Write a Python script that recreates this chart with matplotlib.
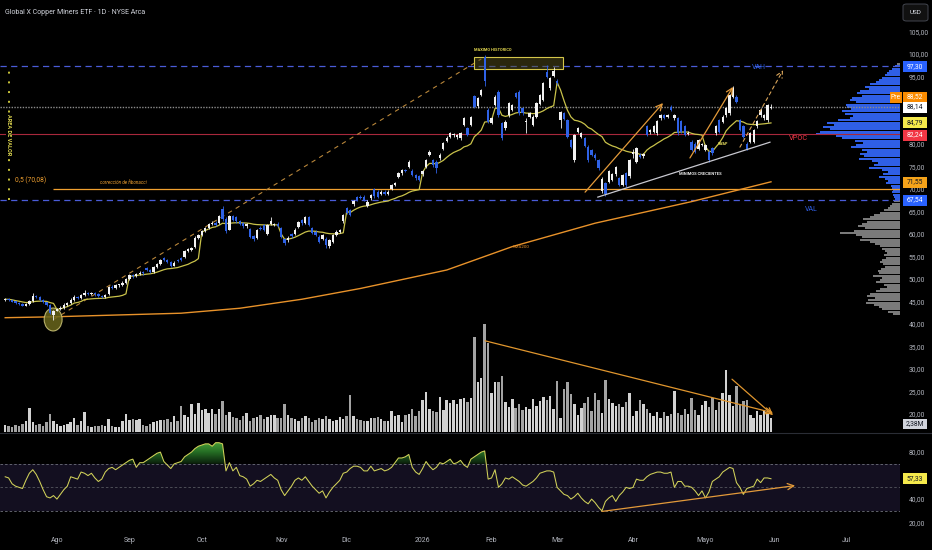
import numpy as np
import matplotlib
matplotlib.use("Agg")
import matplotlib.pyplot as plt
from matplotlib.patches import Rectangle, Ellipse, FancyBboxPatch
from matplotlib.lines import Line2D
from matplotlib.transforms import blended_transform_factory
from matplotlib.colors import LinearSegmentedColormap
from matplotlib.path import Path
from matplotlib.ticker import FuncFormatter

plt.rcParams['font.family'] = ['Roboto', 'DejaVu Sans']

# ---------------- data ----------------
title = "Global X Copper Miners ETF · 1D · NYSE Arca"
month_labels = ['Ago', 'Sep', 'Oct', 'Nov', 'Dic', '2026', 'Feb', 'Mar', 'Abr', 'Mayo', 'Jun', 'Jul']
month_pos = [15, 36, 57, 80, 99, 121, 141, 160, 182, 203, 223, 244]
month_starts = [0, 15, 36, 57, 80, 99, 121, 141, 160, 182, 203]

opens = [
    45.3, 45.6, 45.4, 45.0, 44.6, 44.5, 44.1, 44.4, 45.1, 46.3,
    46.0, 45.3, 44.8, 44.3, 41.9, 43.0, 43.3, 43.6, 44.2, 44.7,
    45.4, 46.1, 45.8, 46.4, 47.0, 46.7, 46.9, 46.6, 46.2, 46.0,
    46.6, 48.3, 48.0, 48.6, 48.7, 49.2, 49.9, 50.9, 50.6, 51.1,
    51.4, 52.4, 52.0, 51.6, 52.7, 53.3, 54.6, 54.3, 53.8, 53.0,
    54.2, 54.6, 54.8, 56.2, 56.5, 57.2, 59.2, 59.8, 60.7, 61.3,
    62.2, 62.5, 62.5, 65.6, 63.4, 61.0, 64.0, 63.7, 62.9, 62.4,
    61.7, 61.0, 59.5, 59.2, 61.4, 62.0, 60.0, 62.2, 62.0, 62.3,
    61.3, 58.8, 58.6, 60.0, 60.0, 61.5, 63.1, 62.4, 63.7, 61.3,
    60.5, 59.4, 59.0, 59.0, 57.3, 58.3, 59.8, 60.5, 62.8, 65.7,
    65.3, 66.6, 68.2, 68.3, 68.3, 66.3, 67.9, 70.0, 69.4, 68.9,
    69.4, 69.0, 70.1, 70.9, 72.7, 73.5, 74.2, 75.0, 74.1, 73.1,
    72.8, 73.3, 75.0, 77.6, 76.4, 76.1, 76.8, 79.0, 80.7, 81.6,
    82.0, 81.5, 81.3, 84.2, 83.5, 84.2, 90.7, 88.4, 90.9, 99.4,
    87.6, 84.7, 88.7, 91.6, 84.6, 83.5, 86.4, 87.6, 91.3, 91.6,
    87.9, 85.0, 86.1, 84.2, 86.1, 89.0, 89.8, 96.1, 92.4, 95.1,
    94.1, 85.3, 86.8, 85.3, 80.9, 76.4, 82.7, 81.6, 81.3, 79.4,
    78.7, 77.6, 76.4, 69.6, 71.3, 71.6, 72.0, 73.3, 72.4, 70.9,
    73.5, 72.8, 77.8, 76.1, 77.6, 77.3, 83.9, 82.6, 82.7, 82.4,
    85.7, 86.4, 86.0, 88.3, 85.7, 85.7, 85.0, 83.9, 82.2, 80.5,
    80.1, 79.0, 79.8, 78.7, 78.3, 79.0, 82.4, 85.3, 85.0, 86.4,
    86.8, 90.5, 90.5, 85.3, 83.9, 80.1, 80.5, 80.5, 83.9, 86.4,
    85.7, 85.3, 88.0]

highs = [
    45.8, 45.8, 45.6, 45.2, 44.8, 44.7, 44.6, 45.3, 46.8, 46.5,
    46.2, 45.5, 45.0, 44.5, 43.2, 43.6, 43.9, 44.6, 45.0, 45.7,
    46.4, 46.3, 46.7, 47.6, 47.2, 47.1, 47.1, 46.8, 46.4, 46.7,
    48.5, 48.6, 48.9, 49.0, 49.5, 50.2, 51.2, 51.2, 51.4, 51.7,
    51.8, 52.7, 52.3, 52.9, 53.6, 54.5, 54.9, 54.5, 54.0, 53.9,
    54.5, 54.8, 56.5, 56.9, 57.2, 59.5, 60.1, 61.0, 61.6, 62.5,
    62.8, 62.8, 64.3, 66.3, 63.7, 64.3, 64.3, 64.0, 63.2, 62.7,
    62.5, 61.3, 59.8, 61.2, 61.7, 62.3, 62.3, 63.8, 62.5, 62.6,
    61.6, 59.1, 59.5, 60.3, 61.3, 63.0, 63.4, 64.0, 64.0, 61.6,
    60.8, 59.7, 60.1, 59.3, 59.0, 60.1, 60.8, 61.2, 64.5, 66.0,
    65.6, 67.6, 68.5, 68.6, 68.6, 67.5, 69.0, 70.3, 69.7, 69.7,
    69.7, 69.7, 71.2, 71.6, 73.8, 74.5, 74.5, 76.4, 74.4, 73.4,
    73.1, 74.2, 76.7, 78.6, 76.7, 76.4, 77.9, 80.5, 81.7, 82.7,
    82.5, 82.3, 82.7, 86.0, 83.8, 86.3, 91.0, 90.5, 92.3, 99.8,
    87.9, 86.0, 90.8, 92.0, 84.9, 85.3, 89.3, 89.0, 91.6, 91.9,
    88.2, 85.8, 87.1, 86.4, 89.3, 91.2, 93.8, 97.6, 94.9, 97.2,
    94.4, 87.3, 87.1, 85.6, 81.2, 82.3, 83.8, 82.7, 81.6, 79.7,
    79.0, 77.9, 76.7, 72.6, 71.6, 74.2, 73.6, 75.1, 72.7, 73.4,
    73.8, 76.7, 78.9, 79.3, 77.9, 78.1, 84.2, 83.4, 84.2, 85.3,
    86.7, 86.7, 86.7, 88.6, 86.7, 86.0, 85.3, 84.2, 82.8, 80.8,
    80.4, 81.2, 80.2, 80.1, 78.6, 79.3, 84.2, 85.6, 86.4, 88.2,
    91.2, 92.8, 90.8, 85.6, 84.2, 80.4, 82.7, 83.4, 85.3, 87.9,
    86.7, 89.0, 89.0]

lows = [
    45.1, 45.2, 44.8, 44.4, 44.3, 43.9, 43.9, 44.2, 45.0, 45.8,
    45.1, 44.6, 44.1, 42.2, 41.0, 42.8, 43.1, 43.4, 44.0, 44.5,
    45.2, 45.5, 45.6, 46.2, 46.4, 46.5, 46.3, 45.9, 45.7, 45.8,
    46.4, 47.7, 47.8, 48.3, 48.5, 49.0, 49.7, 50.3, 50.4, 50.9,
    51.0, 51.7, 51.3, 51.4, 52.5, 53.1, 54.0, 53.5, 52.7, 52.8,
    53.7, 54.0, 54.6, 56.0, 56.2, 57.0, 59.0, 59.6, 60.4, 61.1,
    61.9, 61.8, 62.3, 63.0, 60.3, 60.8, 62.9, 62.5, 62.0, 61.4,
    61.4, 59.1, 58.5, 59.0, 60.8, 60.7, 59.8, 62.0, 61.7, 61.5,
    59.1, 57.5, 58.3, 59.2, 59.8, 61.3, 62.1, 62.2, 61.7, 59.9,
    59.5, 58.0, 58.7, 56.8, 57.0, 58.0, 59.5, 60.2, 62.5, 64.4,
    64.0, 66.3, 67.3, 67.7, 67.3, 66.0, 67.6, 68.1, 68.0, 68.6,
    68.6, 68.7, 69.8, 70.6, 72.4, 73.2, 73.7, 74.7, 72.8, 72.1,
    71.8, 73.0, 74.7, 77.3, 75.0, 73.6, 76.5, 78.7, 80.4, 81.3,
    81.6, 81.2, 81.0, 83.9, 81.7, 83.9, 87.9, 88.1, 90.6, 93.0,
    84.7, 84.4, 88.4, 86.1, 81.0, 83.2, 86.1, 87.3, 90.2, 86.5,
    86.5, 82.5, 85.8, 83.9, 85.8, 88.7, 89.5, 94.7, 92.1, 94.8,
    93.2, 83.5, 85.3, 81.3, 79.1, 76.0, 82.4, 81.3, 79.3, 76.1,
    77.3, 76.5, 74.3, 69.2, 68.5, 71.3, 71.7, 73.0, 70.6, 70.6,
    70.5, 72.5, 77.0, 75.8, 76.8, 77.0, 81.7, 82.3, 82.4, 82.1,
    85.4, 85.5, 85.7, 87.3, 85.4, 82.1, 82.4, 81.7, 81.9, 78.4,
    78.0, 78.7, 79.5, 78.4, 76.1, 77.6, 82.1, 82.4, 84.7, 86.1,
    86.5, 90.2, 89.1, 82.8, 81.3, 78.6, 80.2, 80.2, 83.6, 86.1,
    85.4, 85.0, 87.8]

closes = [
    45.6, 45.4, 45.0, 44.6, 44.5, 44.1, 44.4, 45.1, 46.3, 46.0,
    45.3, 44.8, 44.3, 42.5, 43.0, 43.3, 43.6, 44.2, 44.7, 45.4,
    46.1, 45.8, 46.4, 47.0, 46.7, 46.9, 46.6, 46.2, 46.0, 46.5,
    48.3, 48.0, 48.6, 48.7, 49.2, 49.9, 50.9, 50.6, 51.1, 51.4,
    51.3, 52.0, 51.6, 52.7, 53.3, 54.2, 54.3, 53.8, 53.0, 53.6,
    54.0, 54.3, 56.2, 56.6, 56.9, 59.2, 59.8, 60.7, 61.3, 62.2,
    62.5, 62.1, 64.0, 63.3, 60.6, 64.0, 63.2, 62.8, 62.3, 61.7,
    62.2, 59.4, 58.8, 60.9, 61.1, 61.0, 62.0, 62.9, 62.2, 61.8,
    59.4, 58.0, 59.2, 59.5, 61.0, 62.7, 62.4, 63.7, 62.0, 60.2,
    59.8, 58.3, 59.8, 57.5, 58.7, 59.8, 60.5, 60.9, 64.2, 64.7,
    64.3, 67.3, 67.6, 68.0, 67.6, 67.2, 68.7, 68.4, 68.3, 69.4,
    68.9, 69.4, 70.9, 71.3, 73.5, 74.2, 74.0, 76.1, 73.1, 72.4,
    72.1, 73.9, 76.4, 78.3, 75.3, 74.6, 77.6, 80.2, 81.4, 82.4,
    82.1, 82.0, 82.4, 85.7, 82.0, 86.0, 88.2, 90.2, 92.0, 93.9,
    85.0, 85.7, 90.5, 86.4, 81.3, 85.0, 89.0, 88.7, 90.5, 86.8,
    86.8, 85.1, 86.8, 86.1, 89.0, 90.9, 93.5, 95.0, 94.6, 96.3,
    93.5, 87.0, 85.6, 81.6, 79.4, 82.0, 83.5, 82.4, 79.6, 76.4,
    77.6, 76.8, 74.6, 72.3, 69.0, 73.9, 73.3, 74.8, 70.9, 73.1,
    70.8, 76.4, 78.3, 79.0, 77.1, 77.8, 82.0, 83.1, 83.9, 85.0,
    86.4, 85.8, 86.4, 87.6, 86.4, 82.4, 82.7, 82.0, 82.5, 78.7,
    78.3, 80.9, 79.9, 79.8, 76.4, 77.9, 83.9, 82.7, 86.1, 87.9,
    90.9, 92.4, 89.4, 83.1, 81.6, 79.0, 82.4, 83.1, 85.0, 87.6,
    86.4, 88.7, 88.14]

volumes_m = [
    1.1, 1.0, 0.9, 1.2, 1.0, 1.3, 1.8, 4.0, 1.6, 1.2,
    1.4, 1.0, 1.6, 3.0, 1.8, 1.3, 1.0, 1.2, 1.3, 1.6,
    2.3, 1.1, 1.8, 3.3, 1.0, 0.9, 1.0, 1.0, 1.1, 1.0,
    2.1, 1.0, 0.8, 0.9, 1.8, 3.0, 2.0, 2.1, 2.0, 2.2,
    1.2, 1.0, 1.4, 1.6, 1.9, 2.0, 2.0, 2.2, 1.6, 2.7,
    1.8, 4.3, 2.8, 2.5, 4.7, 3.0, 4.8, 3.6, 3.8, 3.2,
    3.8, 3.0, 3.9, 5.2, 2.8, 3.3, 2.5, 2.3, 2.0, 2.6,
    3.2, 1.8, 2.4, 2.5, 2.8, 2.2, 2.5, 2.8, 2.9, 2.4,
    2.3, 4.6, 2.8, 2.3, 2.2, 1.9, 2.4, 2.6, 2.4, 1.7,
    2.0, 2.3, 2.1, 2.6, 2.2, 1.9, 2.0, 2.5, 2.2, 2.6,
    6.2, 2.6, 2.2, 2.0, 1.9, 1.8, 2.3, 2.4, 2.5, 2.2,
    1.9, 1.8, 3.5, 2.7, 2.8, 1.6, 2.8, 3.0, 3.8, 2.7,
    3.5, 5.4, 6.7, 3.8, 3.5, 3.4, 5.8, 3.6, 5.3, 4.9,
    5.3, 4.6, 5.5, 5.7, 5.0, 5.7, 15.9, 8.3, 9.0, 18.0,
    14.9, 6.5, 8.3, 8.3, 9.4, 5.0, 4.2, 5.5, 4.0, 4.6,
    3.6, 4.1, 3.8, 5.5, 4.3, 5.2, 5.8, 5.4, 6.0, 3.8,
    8.5, 2.4, 7.1, 8.3, 6.3, 4.6, 2.9, 4.0, 4.8, 5.8,
    3.5, 6.5, 5.4, 3.2, 8.6, 5.5, 4.8, 4.3, 4.6, 4.1,
    5.0, 6.5, 2.7, 3.5, 5.4, 4.6, 3.9, 3.2, 2.6, 3.4,
    2.4, 3.3, 2.6, 3.0, 6.8, 3.1, 2.9, 3.8, 3.0, 5.7,
    3.6, 2.8, 4.5, 5.2, 4.2, 5.7, 3.6, 5.0, 6.5, 10.3,
    6.1, 4.4, 7.7, 4.6, 5.1, 5.4, 2.8, 2.3, 3.5, 2.9,
    3.5, 3.0, 2.38]

rsi_values = [
    59, 58, 53, 51, 50, 49, 56, 62, 65, 61,
    55, 48, 42, 41, 43, 40, 44, 48, 51, 59,
    58, 57, 63, 62, 60, 62, 58, 55, 57, 63,
    66, 67, 65, 67, 69, 71, 73, 74, 67, 71,
    71, 73, 75, 77, 79, 80, 72, 69, 66, 70,
    71, 72, 76, 78, 80, 83, 85, 86, 87, 87,
    85, 88, 88, 87, 64, 71, 64, 67, 60, 59,
    57, 51, 53, 56, 55, 57, 59, 61, 58, 56,
    48, 43, 47, 51, 56, 58, 56, 59, 55, 51,
    48, 45, 47, 41, 46, 50, 53, 56, 62, 63,
    66, 68, 68, 67, 64, 64, 68, 64, 65, 66,
    64, 65, 67, 71, 75, 75, 76, 78, 67, 63,
    61, 66, 72, 68, 65, 67, 71, 70, 72, 74,
    70, 71, 73, 69, 67, 74, 76, 78, 80, 81,
    57, 58, 65, 50, 53, 58, 57, 59, 57, 55,
    52, 51, 53, 55, 58, 62, 63, 64, 64, 63,
    50, 47, 44, 43, 40, 42, 45, 41, 38, 36,
    40, 37, 33, 30, 38, 41, 43, 38, 43, 46,
    50, 49, 50, 57, 56, 56, 59, 61, 62, 63,
    63, 62, 62, 63, 50, 55, 55, 51, 51, 50,
    47, 43, 47, 41, 46, 55, 57, 59, 63, 65,
    67, 66, 54, 50, 44, 49, 50, 51, 57, 54,
    58, 58, 57.33]

sma200_idx = [0, 14, 51, 68, 86, 103, 128, 147, 171, 199, 222]
sma200_val = [41.4, 41.6, 42.4, 43.5, 45.5, 47.9, 52.0, 57.2, 62.4, 67.2, 71.6]

# volume profile (lengths in px, from top bin 97.75 down to 42.25, step 0.5)
profile_len = [
    3, 5, 8, 11, 13, 15, 18, 21, 24, 30,
    35, 31, 40, 43, 38, 48, 50, 44, 54, 53,
    49, 58, 55, 47, 50, 62, 73, 66, 77, 70,
    80, 84, 64, 58, 45, 37, 44, 49, 38, 33,
    40, 36, 41, 28, 22, 26, 31, 18, 12, 17,
    21, 15, 12, 14, 9, 8, 7, 8, 7, 6,
    5, 6, 8, 10, 12, 16, 20, 26, 30, 37,
    33, 38, 42, 35, 46, 60, 44, 38, 40, 30,
    25, 20, 18, 15, 13, 16, 14, 18, 20, 17,
    15, 19, 22, 21, 27, 18, 20, 24, 16, 13,
    20, 24, 30, 33, 25, 32, 34, 26, 21, 18,
    12, 7]

vah, vpoc, val = 97.30, 82.24, 67.54
fib_level = 70.08
last_close = 88.14
pre_price = 88.52
rsi_last = 57.33
vol_last = 2.38
price_ticks = [20, 25, 30, 35, 40, 45, 50, 55, 60, 65, 70, 75, 80, 95, 100, 105]
rsi_ticks = [20, 40, 80]

# ---------------- figure ----------------
W, H = 932, 550
fig = plt.figure(figsize=(W / 100, H / 100), dpi=100, facecolor='black')

def fpos(x0, y0, x1, y1):
    return [x0 / W, 1 - y1 / H, (x1 - x0) / W, (y1 - y0) / H]

main_rect = fpos(0, 0, 900, 432)
rsi_rect = fpos(0, 434, 900, 530)
XL = (-1.507, 259.4)
YL = (16.0, 112.0)

ax_vol = fig.add_axes(main_rect, facecolor='black')
ax_prof = fig.add_axes(fpos(800, 0, 900, 432))
ax = fig.add_axes(main_rect)
ax_rsi = fig.add_axes(rsi_rect, facecolor='black')

for a in (ax_vol, ax_prof, ax, ax_rsi):
    for s in a.spines.values():
        s.set_visible(False)
ax_prof.patch.set_alpha(0)
ax.patch.set_alpha(0)

n = len(closes)
xi = np.arange(n)
o = np.array(opens); hi = np.array(highs); lo = np.array(lows); c = np.array(closes)
vol = np.array(volumes_m)
up = c >= o

# ---- volume ----
vcol = np.where(up, '#d2d2d2', '#a3a3a3')
ax_vol.bar(xi, vol, width=0.72, color=vcol, lw=0, zorder=2)
ax_vol.set_xlim(*XL)
ax_vol.set_ylim(0, 72)
ax_vol.set_xticks([]); ax_vol.set_yticks([])

def arrow(a, p0, p1, color, ls='-', lw=0.9):
    a.annotate('', xy=p1, xytext=p0,
               arrowprops=dict(arrowstyle='->,head_length=0.45,head_width=0.22', color=color,
                               lw=lw, linestyle=ls, shrinkA=0, shrinkB=0), zorder=8)

arrow(ax_vol, (139.1, 15.2), (222.6, 3.2), '#e0962e')
arrow(ax_vol, (210.7, 8.8), (222.6, 2.8), '#e0962e')

# ---- volume profile ----
prof_centers = np.arange(97.75, 42.0, -0.5)[:len(profile_len)]
pcol = ['#2f5fe6' if (val <= p <= vah) else '#7a7a7a' for p in prof_centers]
ax_prof.barh(prof_centers, profile_len, height=0.42, color=pcol, lw=0)
ax_prof.set_xlim(100, 0)
ax_prof.set_ylim(*YL)
ax_prof.set_xticks([]); ax_prof.set_yticks([])

# ---- main price pane ----
ax.set_xlim(*XL)
ax.set_ylim(*YL)
ax.axhline(vah, color='#4a5cd8', lw=0.9, ls=(0, (5, 3.5)), zorder=3)
ax.axhline(val, color='#4a5cd8', lw=0.9, ls=(0, (5, 3.5)), zorder=3)
ax.axhline(vpoc, color='#a8283c', lw=0.8, zorder=3)
ax.axhline(last_close, color='#8c8c8c', lw=1.0, ls=(0, (1, 1)), zorder=3)
ax.hlines(fib_level, 13.9, XL[1], color='#f0a030', lw=0.9, zorder=3)

# SMA200
ax.plot(sma200_idx, sma200_val, color='#e8922a', lw=1.0, zorder=3)

# monthly anchored VWAP from OHLCV
tp = (hi + lo + c) / 3.0
vwap = np.empty(n)
bounds = month_starts + [n]
for s, e in zip(bounds[:-1], bounds[1:]):
    vwap[s:e] = np.cumsum(tp[s:e] * vol[s:e]) / np.cumsum(vol[s:e])
ax.plot(xi, vwap, color='#c9c24a', lw=0.9, zorder=4)

# fib diagonal
ax.plot([14, 138], [41.0, 98.9], color='#b8863a', lw=0.8, ls=(0, (4, 4)), zorder=3)

# circle at low
ax.add_patch(Ellipse((13.9, 41.0), 5.2, 5.1, fc='#6a661c', ec='#cfc77a', lw=0.8, alpha=0.85, zorder=3))

# ATH box
ax.add_patch(Rectangle((135.9, 96.67), 25.8, 2.66, fc=(0.33, 0.31, 0.10, 0.5), ec='#d4c64a', lw=0.8, zorder=3.5))
ax.text(135.9, 100.9, 'MAXIMO HISTORICO', fontsize=2.9, color='#e2d64e', fontweight='bold',
        ha='left', va='center', zorder=9)

# candles
ccol = np.where(up, '#f2f2f2', '#2f62e6')
ax.vlines(xi, lo, hi, colors=ccol, lw=0.6, zorder=5)
ax.bar(xi, np.maximum(np.abs(c - o), 0.18), bottom=np.minimum(o, c), width=0.68,
       color=ccol, lw=0, zorder=6)

# drawings
arrow(ax, (168.1, 69.3), (190.7, 89.1), '#e39a3a')
arrow(ax, (198.5, 76.9), (211.0, 92.7), '#e39a3a')
arrow(ax, (213.0, 79.3), (225.5, 96.4), '#d9a55a', ls=(0, (3, 3)), lw=0.8)
ax.plot([171.8, 221.7], [68.2, 80.4], color='#c8c8d0', lw=0.9, zorder=7)

# value area dotted vertical + label
ax.vlines(1.1, val, vah, color='#c9c43a', lw=1.4, ls=(0, (1, 4)), zorder=4)
ax.text(1.1, 82.0, 'AREA DE VALOR', rotation=270, fontsize=4.0, color='#e0d850', fontweight='bold',
        ha='center', va='center', zorder=9,
        bbox=dict(boxstyle='square,pad=0.15', fc='black', ec='none'))

# texts
ax.text(2.9, 71.8, '0,5 (70,08)', fontsize=4.8, color='#f0a030', ha='left', va='center', zorder=9)
ax.text(34.4, 71.55, 'corrección de fibonacci', fontsize=3.3, color='#f0a030', style='italic',
        ha='center', va='center', zorder=9)
ax.text(149.5, 57.1, 'SMA200', fontsize=3.2, color='#e8922a', ha='center', va='center', zorder=9)
ax.text(218.5, 97.1, 'VAH', fontsize=5.0, color='#2f5fe6', ha='center', va='center', zorder=9)
ax.text(230.1, 81.2, 'VPOC', fontsize=5.3, color='#f23645', ha='center', va='center', zorder=9)
ax.text(233.6, 65.4, 'VAL', fontsize=5.0, color='#2f5fe6', ha='center', va='center', zorder=9)
ax.text(201.4, 73.4, 'MINIMOS CRECIENTES', fontsize=3.0, color='#e8e8e8', fontweight='bold',
        ha='center', va='center', zorder=9)
ax.text(208.1, 80.1, 'VWAP', fontsize=2.6, color='#e8e060', fontweight='bold',
        ha='center', va='center', zorder=9)

# right price axis
fmt = FuncFormatter(lambda v, p: f"{v:.2f}".replace('.', ','))
ax.yaxis.tick_right()
ax.set_yticks(price_ticks)
ax.yaxis.set_major_formatter(fmt)
ax.tick_params(axis='y', length=0, pad=6, labelsize=4.9, labelcolor='#b2b5be')
ax.set_xticks([])

bt = blended_transform_factory(ax.transAxes, ax.transData)

def tag(a, tr, y, halfh, s, fc, tc, x0=1.0035, w=0.0265):
    a.add_patch(Rectangle((x0, y - halfh), w, 2 * halfh, transform=tr, fc=fc, ec='none',
                          clip_on=False, zorder=20))
    a.text(x0 + w / 2, y, s, transform=tr, ha='center', va='center', fontsize=4.9, color=tc,
           clip_on=False, zorder=21)

hp = 5.5 / 4.5
tag(ax, bt, vah, hp, '97,30', '#2962ff', 'white')
tag(ax, bt, 90.44, hp, '88,52', '#fb8c00', 'white')
tag(ax, bt, 90.44, hp, 'Pre', '#fb8c00', 'white', x0=0.9885, w=0.0135)
tag(ax, bt, 88.2, hp, '88,14', '#ffffff', '#131722')
tag(ax, bt, 84.67, hp, '84,79', '#f5e94b', '#131722')
tag(ax, bt, 82.0, hp, '82,24', '#f23645', 'white')
tag(ax, bt, 71.55, hp, '71,55', '#f5a31a', '#131722')
tag(ax, bt, val, hp, '67,54', '#2962ff', 'white')
btv = blended_transform_factory(ax_vol.transAxes, ax_vol.transData)
# volume tag sits just under the 20,00 price label (pinned near the pane bottom)
tag(ax_vol, btv, 1.35, 4.8 / 6.0, '2,38M', '#d1d4dc', '#131722')

# ---- RSI pane ----
ax_rsi.set_xlim(*XL)
RL = (13.7, 95.4)
ax_rsi.axhspan(30, 70, color='#130f20', zorder=0.5, lw=0)
for lvl, colr in ((70, '#6e717b'), (50, '#55575f'), (30, '#6e717b')):
    ax_rsi.axhline(lvl, color=colr, lw=0.6, ls=(0, (3, 2.5)), zorder=1)
rsi = np.array(rsi_values, dtype=float)
fb = ax_rsi.fill_between(xi, 70, rsi, where=rsi > 70, interpolate=True, facecolor='none', edgecolor='none')
paths = fb.get_paths()
if len(paths):
    comp = Path.make_compound_path(*paths)
    grad = np.linspace(0, 1, 200).reshape(-1, 1)
    cmap = LinearSegmentedColormap.from_list('rg', ['#0a1d0b', '#256d24', '#4ea83e'])
    im = ax_rsi.imshow(grad, extent=[xi[0], xi[-1], 70, 90], origin='lower', aspect='auto',
                       cmap=cmap, zorder=2, interpolation='bilinear')
    im.set_clip_path(comp, ax_rsi.transData)
ax_rsi.plot(xi, rsi, color='#d2d25a', lw=0.75, zorder=3)
arrow(ax_rsi, (173, 29.5), (229, 51.5), '#e39a3a')
ax_rsi.set_xlim(*XL)
ax_rsi.set_ylim(*RL)
ax_rsi.yaxis.tick_right()
ax_rsi.set_yticks(rsi_ticks)
ax_rsi.yaxis.set_major_formatter(fmt)
ax_rsi.tick_params(axis='y', length=0, pad=6, labelsize=4.9, labelcolor='#b2b5be')
ax_rsi.set_xticks(month_pos)
ax_rsi.set_xticklabels(month_labels)
ax_rsi.tick_params(axis='x', length=0, pad=5, labelsize=5.0, labelcolor='#b2b5be')
btr = blended_transform_factory(ax_rsi.transAxes, ax_rsi.transData)
tag(ax_rsi, btr, rsi_last, 5.5 / 1.175, '57,33', '#f5e94b', '#131722')

# pane divider
fig.add_artist(Line2D([0, 1], [1 - 432.8 / H, 1 - 432.8 / H], color='#2a2d35', lw=0.8))

# title + USD box
fig.text(5 / W, 1 - 12 / H, title, fontsize=5.0, color='#d1d4dc', ha='left', va='center')
fig.add_artist(FancyBboxPatch((903 / W, 1 - 21 / H), 25 / W, 17 / H,
                              boxstyle='round,pad=0,rounding_size=0.004', transform=fig.transFigure,
                              fc='#111111', ec='#43464f', lw=0.7))
fig.text(915.5 / W, 1 - 12.5 / H, 'USD', fontsize=4.6, color='#e0e3eb', ha='center', va='center')

fig.savefig('out.png', dpi=100, facecolor='black')
